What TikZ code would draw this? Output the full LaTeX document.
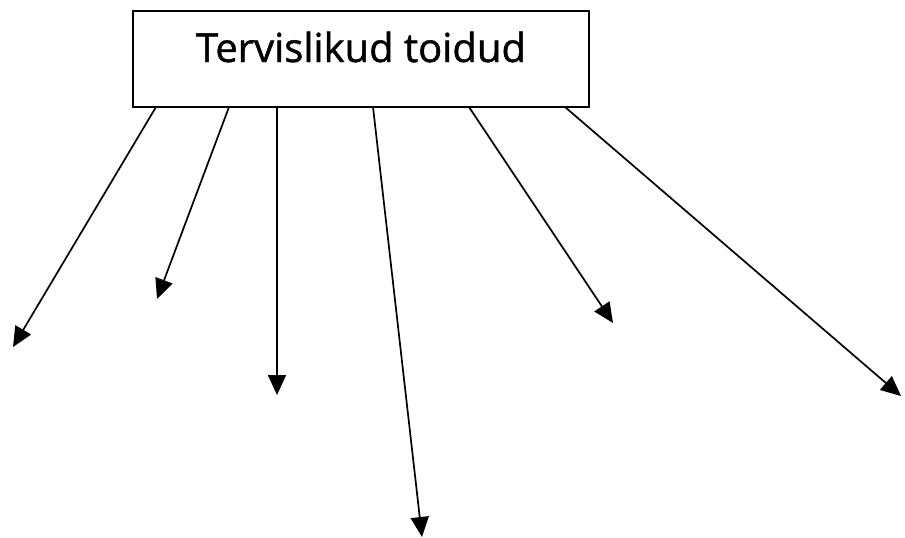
\documentclass[tikz,border=0pt]{standalone}
\usepackage{fontspec}
\setmainfont{Open Sans}
\newfontfamily\titlefont[FakeBold=1.2]{Open Sans}
\usetikzlibrary{arrows.meta}
\begin{document}
\begin{tikzpicture}[x=1pt,y=-1pt,
  boxstyle/.style={draw=black,line width=2pt},
  arr/.style={line width=1.7pt,-{Triangle[length=20pt,width=18pt]}}]
\useasboundingbox (0,0) rectangle (905,538);
\node[boxstyle,minimum width=456pt,minimum height=96pt,inner sep=0pt] (box) at (361,59) {};
\node[anchor=base,inner sep=0pt,font=\titlefont\fontsize{40}{48}\selectfont] (title) at (361,62) {Tervislikud toidud};
\coordinate (s1) at (156,107);
\coordinate (s2) at (229,107);
\coordinate (s3) at (277,107);
\coordinate (s4) at (373,107);
\coordinate (s5) at (469,107);
\coordinate (s6) at (565,107);
\coordinate (e1) at (13,347);
\coordinate (e2) at (157,299);
\coordinate (e3) at (277,395);
\coordinate (e4) at (422,537);
\coordinate (e5) at (613,323);
\coordinate (e6) at (901,396);
\foreach \i in {1,...,6} \draw[arr] (s\i) -- (e\i);
\end{tikzpicture}
\end{document}
